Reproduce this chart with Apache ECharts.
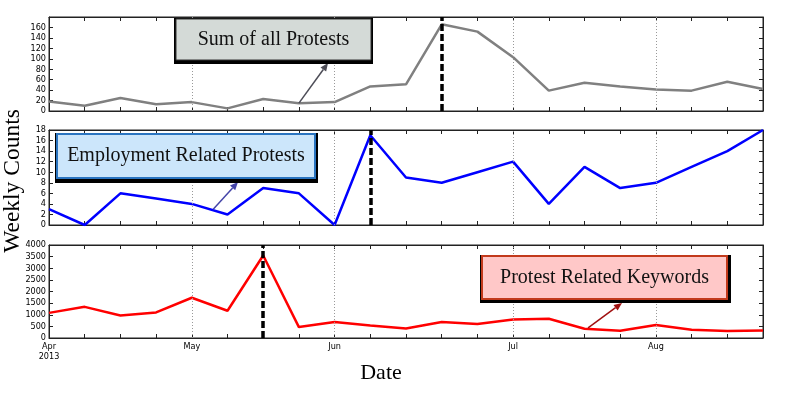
<!DOCTYPE html>
<html>
<head>
<meta charset="utf-8">
<script src="https://cdn.jsdelivr.net/npm/echarts@6/dist/echarts.min.js"></script>
<style>
  html, body { margin: 0; padding: 0; background: #fff; }
  #main { width: 789px; height: 395px; }
</style>
</head>
<body>
<div id="main"></div>
<script>
// weekly points, x = week index from Apr 1 2013
const tickIdx = [0, 4, 8, 13, 17]
const tickLabels = ['Apr\n2013', 'May', 'Jun', 'Jul', 'Aug']

const allProtests = [18, 10, 25, 13, 17, 5, 23, 15, 17, 47, 51, 166, 152, 103, 39, 54, 47, 41, 39, 56, 42]
const employment = [3, 0, 6, 5, 4, 2, 7, 6, 0, 17, 9, 8, 10, 12, 4, 11, 7, 8, 11, 14, 18]
const keywords = [1080, 1340, 970, 1100, 1730, 1170, 3550, 470, 685, 540, 410, 685, 600, 800, 830, 400, 310, 555, 355, 300, 325]

const eventIdx = [11, 9, 6]
const yMax = [180, 18, 4000]
const yStep = [20, 2, 500]
const lineColors = ['#808080', '#0000ff', '#ff0000']
const boxTexts = ['Sum of all Protests', 'Employment Related Protests', 'Protest Related Keywords']
// where each annotation arrow starts, in data coords
const arrowFrom = [[7, 15], [4.6, 3], [15.1, 440]]

const seriesData = [allProtests, employment, keywords]
const panels = [{ top: 17, height: 94 }, { top: 130, height: 95 }, { top: 245, height: 93 }]

const tickFont = { fontFamily: '"DejaVu Sans Condensed", "DejaVu Sans", sans-serif', fontSize: 9, color: '#000' }
const frameColor = '#222'

let grid = [], xAxis = [], yAxis = [], series = []
panels.forEach(function (p, i) {
  grid.push({ left: 49, width: 714, top: p.top, height: p.height, show: true, borderColor: frameColor, borderWidth: 1 })
  // bottom + top x axes
  ;['bottom', 'top'].forEach(function (pos) {
    xAxis.push({
      type: 'value', gridIndex: i, position: pos, min: 0, max: 20, interval: 1,
      axisLine: { show: true, onZero: false, lineStyle: { color: frameColor, width: 1 } },
      axisTick: { show: true, inside: true, length: 4, lineStyle: { color: frameColor } },
      axisLabel: {
        show: i == 2 && pos == 'bottom', margin: 4, ...tickFont, lineHeight: 10,
        formatter: function (v) {
          let k = tickIdx.indexOf(v)
          return k >= 0 ? tickLabels[k] : ''
        }
      },
      splitLine: { show: false }
    })
  })
  ;['left', 'right'].forEach(function (pos) {
    yAxis.push({
      type: 'value', gridIndex: i, position: pos, min: 0, max: yMax[i], interval: yStep[i],
      axisLine: { show: true, onZero: false, lineStyle: { color: frameColor, width: 1 } },
      axisTick: { show: true, inside: true, length: 4, lineStyle: { color: frameColor } },
      axisLabel: {
        show: pos == 'left', margin: 3, ...tickFont,
        formatter: function (v) {
          return (i == 0 && v == 180) ? '' : String(v)
        }
      },
      splitLine: { show: false }
    })
  })

  let marks = tickIdx.slice(1).map(function (t) {
    return { xAxis: t, lineStyle: { color: '#999', width: 1, type: [1, 2] } }
  })
  marks.push({ xAxis: eventIdx[i], lineStyle: { color: '#000', width: 3.5, type: [7, 3] } })

  series.push({
    type: 'line', xAxisIndex: 2 * i, yAxisIndex: 2 * i,
    data: seriesData[i].map(function (v, k) { return [k, v] }),
    showSymbol: false, symbol: 'none',
    lineStyle: { color: lineColors[i], width: 2.5 },
    itemStyle: { color: lineColors[i] },
    markLine: { silent: true, symbol: ['none', 'none'], label: { show: false }, animation: false, data: marks },
    animation: false
  })
})

// annotation boxes: outer black shadow rect, inner coloured rect
const boxes = [
  { outer: [174, 18, 199, 46], inner: [176, 19, 195, 41], fill: '#d4dad7', edge: '#333', lw: 1 },
  { outer: [55, 133, 263, 50], inner: [57, 134, 258, 44], fill: '#cce6fb', edge: '#2a74c0', lw: 2 },
  { outer: [480, 255, 251, 48], inner: [482, 256, 245, 43], fill: '#ffc8c8', edge: '#c23a1c', lw: 2 }
]
const arrowTo = [[328, 63], [238, 182], [622, 303]]
const arrowColors = ['#4d4d57', '#4444a8', '#a01010']

function boxGraphics(b, text) {
  return [
    { type: 'rect', z: 100, shape: { x: b.outer[0], y: b.outer[1], width: b.outer[2], height: b.outer[3] }, style: { fill: '#000' } },
    { type: 'rect', z: 101, shape: { x: b.inner[0], y: b.inner[1], width: b.inner[2], height: b.inner[3] }, style: { fill: b.fill, stroke: b.edge, lineWidth: b.lw } },
    {
      type: 'text', z: 102, x: b.inner[0] + b.inner[2] / 2, y: b.inner[1] + b.inner[3] / 2,
      style: { text: text, fontFamily: '"Liberation Serif", "DejaVu Serif", serif', fontSize: 20, fill: '#111', align: 'center', verticalAlign: 'middle' }
    }
  ]
}

function arrow(p, q, color) {
  let dx = q[0] - p[0], dy = q[1] - p[1]
  let L = Math.hypot(dx, dy), ux = dx / L, uy = dy / L
  let hl = 8, hw = 3.5
  let bx = q[0] - ux * hl, by = q[1] - uy * hl
  return [
    { type: 'line', z: 99, shape: { x1: p[0], y1: p[1], x2: bx, y2: by }, style: { stroke: color, lineWidth: 1.5 } },
    { type: 'polygon', z: 99, shape: { points: [q, [bx - uy * hw, by + ux * hw], [bx + uy * hw, by - ux * hw]] }, style: { fill: color } }
  ]
}

let myChart = echarts.init(document.getElementById('main'), null, { renderer: 'canvas' })
let option = {
  animation: false,
  backgroundColor: '#fff',
  grid: grid,
  xAxis: xAxis,
  yAxis: yAxis,
  series: series,
  graphic: [
    {
      type: 'text', x: 13, y: 181, rotation: Math.PI / 2,
      style: { text: 'Weekly Counts', fontFamily: '"Liberation Serif", "DejaVu Serif", serif', fontSize: 23.5, fill: '#000', align: 'center', verticalAlign: 'middle' }
    },
    {
      type: 'text', x: 381, y: 373,
      style: { text: 'Date', fontFamily: '"Liberation Serif", "DejaVu Serif", serif', fontSize: 22, fill: '#000', align: 'center', verticalAlign: 'middle' }
    }
  ]
}
myChart.setOption(option)

// arrows need pixel positions of the data anchors
let extra = []
boxes.forEach(function (b, i) {
  let p = myChart.convertToPixel({ seriesIndex: i }, arrowFrom[i])
  extra = extra.concat(arrow(p, arrowTo[i], arrowColors[i]))
  extra = extra.concat(boxGraphics(b, boxTexts[i]))
})
myChart.setOption({ graphic: option.graphic.concat(extra) })
</script>
</body>
</html>
